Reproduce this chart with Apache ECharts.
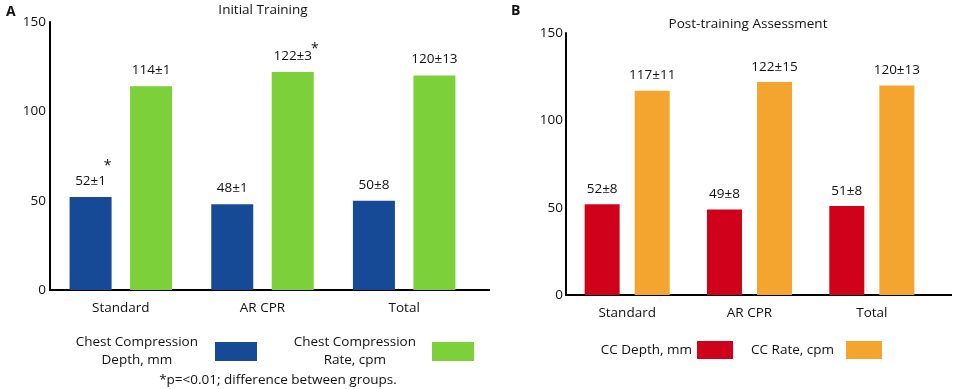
<!DOCTYPE html>
<html>
<head>
<meta charset="utf-8">
<script src="https://cdn.jsdelivr.net/npm/echarts@6/dist/echarts.min.js"></script>
<style>
  html, body { margin: 0; padding: 0; background: #fff; }
  #main { width: 957px; height: 389px; }
</style>
</head>
<body>
<div id="main"></div>
<script>
// categories shared by both panels
const groups = ['Standard', 'AR CPR', 'Total']

// panel A - initial training
const initDepth = [52, 48, 50]
const initDepthLabels = ['52±1', '48±1', '50±8']
const initRate = [114, 122, 120]
const initRateLabels = ['114±1', '122±3', '120±13']
const initDepthStars = [0] // index of bars flagged with *
const initRateStars = [1]

// panel B - post-training assessment
const postDepth = [52, 49, 51]
const postDepthLabels = ['52±8', '49±8', '51±8']
const postRate = [117, 122, 120]
const postRateLabels = ['117±11', '122±15', '120±13']

const yTicks = [0, 50, 100, 150]

const FONT = '"Open Sans", "Noto Sans", sans-serif'
const FS = 13.5
const INK = '#111'

const myChart = echarts.init(document.getElementById('main'))

function valueLabel (labels, dist) {
  return {
    show: true,
    position: 'top',
    distance: dist,
    color: INK,
    fontFamily: FONT,
    fontSize: FS,
    formatter: p => labels[p.dataIndex]
  }
}

function stars (values, idx, offsets) {
  return {
    symbol: 'circle',
    symbolSize: 0,
    silent: true,
    label: { show: true, formatter: '*', color: INK, fontFamily: FONT, fontSize: 14 },
    data: idx.map((i, k) => ({ coord: [groups[i], values[i]], label: { offset: offsets[k] } }))
  }
}

// legend text lines centred inside the block
function legendFmt (name) {
  return name.split('\n').map(s => '{c|' + s + '}').join('\n')
}

function legendItem (name, right, top, w, h, padRight) {
  return {
    data: [name],
    right: right,
    top: top,
    padding: 0,
    align: 'right',
    icon: 'rect',
    itemWidth: w,
    itemHeight: h,
    selectedMode: false,
    formatter: legendFmt,
    textStyle: {
      color: INK,
      fontFamily: FONT,
      fontSize: FS,
      rich: { c: { align: 'center', fontFamily: FONT, fontSize: FS, color: INK, lineHeight: 18, padding: [0, padRight, 0, 0] } }
    }
  }
}

function yAxis (gridIndex, margin) {
  return {
    type: 'value',
    gridIndex: gridIndex,
    min: yTicks[0],
    max: yTicks[yTicks.length - 1],
    interval: 50,
    splitLine: { show: false },
    axisTick: { show: false },
    axisLine: { show: true, lineStyle: { color: '#000', width: 2 } },
    axisLabel: { color: INK, fontFamily: FONT, fontSize: FS, margin: margin }
  }
}

function xAxis (gridIndex) {
  return {
    type: 'category',
    gridIndex: gridIndex,
    data: groups,
    axisTick: { show: false },
    axisLine: { show: true, lineStyle: { color: '#000', width: 2 } },
    axisLabel: { color: INK, fontFamily: FONT, fontSize: FS, margin: 11 }
  }
}

const option = {
  animation: false,
  backgroundColor: '#fff',
  textStyle: { fontFamily: FONT },
  title: [
    { text: 'A', left: 1, top: 0, textStyle: { fontSize: 14, fontWeight: 'bold', color: INK, fontFamily: FONT } },
    { text: 'Initial Training', left: 258, top: -2, textAlign: 'center', textStyle: { fontSize: FS, fontWeight: 'normal', color: INK, fontFamily: FONT } },
    { text: 'B', left: 506, top: -1, textStyle: { fontSize: 14, fontWeight: 'bold', color: INK, fontFamily: FONT } },
    { text: 'Post-training Assessment', left: 743, top: 12, textAlign: 'center', textStyle: { fontSize: FS, fontWeight: 'normal', color: INK, fontFamily: FONT } },
    { text: '*p=<0.01; difference between groups.', left: 278, top: 373, textAlign: 'center', padding: 0, textStyle: { fontSize: FS, fontWeight: 'normal', color: INK, fontFamily: FONT } }
  ],
  legend: [
    legendItem('Chest Compression\nDepth, mm', 700, 335.5, 42, 19, 12),
    legendItem('Chest Compression\nRate, cpm', 483, 335.5, 42, 19, 11),
    legendItem('CC Depth, mm', 224, 341, 36, 18, 0),
    legendItem('CC Rate, cpm', 75, 341, 36, 18, 7)
  ],
  grid: [
    { left: 50, top: 22, width: 425, height: 268 },
    { left: 566, top: 33, width: 367, height: 262 }
  ],
  xAxis: [xAxis(0), xAxis(1)],
  yAxis: [yAxis(0, 4), yAxis(1, 3)],
  // the original x axis lines run a little past the last group
  graphic: [
    { type: 'line', silent: true, shape: { x1: 474, y1: 290, x2: 490, y2: 290 }, style: { stroke: '#000', lineWidth: 2 } },
    { type: 'line', silent: true, shape: { x1: 932, y1: 295, x2: 952, y2: 295 }, style: { stroke: '#000', lineWidth: 2 } }
  ],
  series: [
    {
      name: 'Chest Compression\nDepth, mm',
      type: 'bar',
      xAxisIndex: 0,
      yAxisIndex: 0,
      barWidth: 42,
      barGap: '44%',
      color: '#174A96',
      label: valueLabel(initDepthLabels, 9),
      markPoint: stars(initDepth, initDepthStars, [[17, -31]]),
      data: initDepth
    },
    {
      name: 'Chest Compression\nRate, cpm',
      type: 'bar',
      xAxisIndex: 0,
      yAxisIndex: 0,
      barWidth: 42,
      barGap: '44%',
      color: '#7CD13A',
      label: valueLabel(initRateLabels, 9),
      markPoint: stars(initRate, initRateStars, [[22, -23]]),
      data: initRate
    },
    {
      name: 'CC Depth, mm',
      type: 'bar',
      xAxisIndex: 1,
      yAxisIndex: 1,
      barWidth: 35,
      barGap: '43%',
      color: '#D0021B',
      label: valueLabel(postDepthLabels, 8),
      data: postDepth
    },
    {
      name: 'CC Rate, cpm',
      type: 'bar',
      xAxisIndex: 1,
      yAxisIndex: 1,
      barWidth: 35,
      barGap: '43%',
      color: '#F4A530',
      label: valueLabel(postRateLabels, 8),
      data: postRate
    }
  ]
}

myChart.setOption(option)
</script>
</body>
</html>
